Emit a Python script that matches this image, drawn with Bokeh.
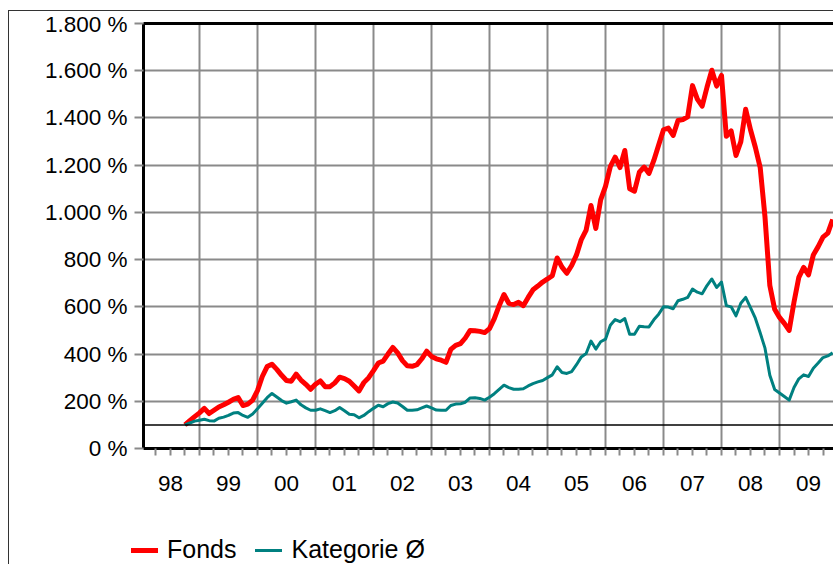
import pandas as pd
from bokeh.plotting import figure
from bokeh.layouts import column
from bokeh.models import (Range1d, LinearAxis, FixedTicker, Span, Legend, LegendItem)
from bokeh.embed import file_html
from bokeh.resources import INLINE

# ---------------- data (monthly, % of start value) ----------------
start_month = "1998-10"

fonds = [
    100, 118, 135, 151, 170, 148, 162, 176, 185, 196,
    208, 216, 182, 188, 205, 245, 305, 347, 357, 335,
    310, 288, 285, 315, 290, 272, 251, 272, 286, 262,
    262, 278, 302, 296, 285, 265, 244, 279, 300, 330,
    362, 370, 400, 428, 405, 372, 350, 348, 355, 380,
    412, 390, 380, 374, 365, 420, 437, 444, 468, 500,
    499, 496, 491, 508, 550, 605, 652, 615, 610, 619,
    605, 640, 672, 688, 705, 718, 732, 807, 768, 742,
    775, 820, 885, 925, 1029, 932, 1053, 1110, 1194, 1234,
    1190, 1262, 1100, 1090, 1170, 1192, 1165, 1220, 1285, 1350,
    1357, 1326, 1389, 1393, 1405, 1537, 1480, 1450, 1530, 1602,
    1535, 1580, 1322, 1345, 1241, 1300, 1437, 1350, 1276, 1191,
    980, 690, 590, 555, 530, 500, 620, 725, 767, 735,
    820, 855, 895, 912, 970,
]

kategorie = [
    100, 108, 116, 120, 124, 118, 116, 128, 133, 140,
    150, 152, 140, 132, 146, 168, 192, 215, 233, 218,
    203, 192, 198, 205, 185, 172, 162, 162, 168, 160,
    152, 160, 174, 160, 145, 143, 130, 140, 156, 170,
    183, 177, 190, 197, 193, 178, 162, 162, 164, 172,
    180, 172, 163, 162, 162, 182, 188, 189, 196, 214,
    215, 212, 205, 217, 232, 250, 268, 258, 251, 251,
    253, 265, 275, 282, 288, 300, 312, 346, 322, 318,
    326, 355, 388, 402, 455, 421, 452, 463, 522, 546,
    537, 550, 484, 484, 518, 516, 515, 545, 569, 600,
    599, 592, 626, 632, 640, 675, 662, 655, 690, 718,
    682, 705, 605, 600, 562, 615, 640, 597, 552, 490,
    425, 310, 250, 235, 220, 205, 258, 295, 312, 305,
    340, 362, 385, 392, 405,
]

years = list(range(1998, 2011))
year_labels = ["98", "99", "00", "01", "02", "03", "04", "05", "06", "07", "08", "09"]
y_ticks = [0, 200, 400, 600, 800, 1000, 1200, 1400, 1600, 1800]
y_tick_labels = ["0 %", "200 %", "400 %", "600 %", "800 %", "1.000 %",
                 "1.200 %", "1.400 %", "1.600 %", "1.800 %"]
series_names = ["Fonds", "Kategorie Ø"]
series_colors = ["#ff0000", "#008080"]
series_widths = [5, 3]
series_values = [fonds, kategorie]

# ---------------- derived x positions (fractional years) ----------------
months = pd.date_range(start_month, periods=len(fonds), freq="MS")
xs = list(months.year + (months.month - 1) / 12.0)

FONT = "Liberation Sans"
GRID = "#8a8a8a"
W = 824

p = figure(width=W, height=519, output_backend="svg", toolbar_location=None,
           x_range=Range1d(1998.035, 2009.931), y_range=Range1d(0, 1800),
           min_border_left=134, min_border_right=0, min_border_top=12,
           min_border_bottom=82)
p.outline_line_color = None
p.background_fill_color = "white"
p.border_fill_color = "white"

# grids
p.xgrid.ticker = FixedTicker(ticks=years)
p.ygrid.ticker = FixedTicker(ticks=y_ticks)
for g in (p.xgrid[0], p.ygrid[0]):
    g.grid_line_color = GRID
    g.grid_line_width = 2

# y axis
ya = p.yaxis[0]
ya.ticker = FixedTicker(ticks=y_ticks)
ya.major_label_overrides = {t: lab for t, lab in zip(y_ticks, y_tick_labels)}
ya.axis_line_width = 3
ya.axis_line_color = "black"
ya.major_tick_out = 9
ya.major_tick_in = 0
ya.major_tick_line_color = GRID
ya.major_tick_line_width = 2
ya.minor_tick_line_color = None
ya.major_label_standoff = 7
ya.major_label_text_font = FONT
ya.major_label_text_font_size = "22.5px"
ya.major_label_text_color = "black"

# bottom axis: quarter ticks, year labels centred in each year
quarters = [y + q / 4 for y in years for q in range(4)]
mid_years = [y + 0.5 for y in years[:len(year_labels)]]
xa = p.xaxis[0]
xa.ticker = FixedTicker(ticks=mid_years, minor_ticks=quarters)
xa.major_label_overrides = {m: lab for m, lab in zip(mid_years, year_labels)}
xa.axis_line_width = 3
xa.axis_line_color = "black"
xa.major_tick_out = 0
xa.major_tick_in = 0
xa.minor_tick_out = 7
xa.minor_tick_in = 0
xa.minor_tick_line_color = GRID
xa.minor_tick_line_width = 2
xa.major_label_standoff = 20
xa.major_label_text_font = FONT
xa.major_label_text_font_size = "22.5px"
xa.major_label_text_color = "black"

# top frame line
top = LinearAxis(ticker=FixedTicker(ticks=[]), axis_line_width=3, axis_line_color="black",
                 major_tick_line_color=None, minor_tick_line_color=None)
p.add_layout(top, "above")

# 100 % reference line
p.add_layout(Span(location=100, dimension="width", line_color="black", line_width=1.5))

for vals, col, lw in zip(series_values, series_colors, series_widths):
    p.line(xs, vals, line_color=col, line_width=lw, line_join="round")

# ---------------- legend strip below the chart ----------------
lg = figure(width=W, height=34, output_backend="svg", toolbar_location=None,
            x_range=Range1d(0, W), y_range=Range1d(0, 34), min_border=0,
            min_border_left=0, min_border_right=0, min_border_top=0, min_border_bottom=0,
            x_axis_type=None, y_axis_type=None)
for fig in (p, lg):
    if "frame_align" in fig.properties():
        fig.frame_align = False
lg.outline_line_color = None
lg.background_fill_color = "white"
lg.border_fill_color = "white"
items = []
for name, vals, col, lw in zip(series_names, series_values, series_colors, series_widths):
    # same series, lying outside this strip's visible range: only the legend swatch shows
    r = lg.line(xs, vals, line_color=col, line_width=lw, line_cap="round")
    items.append(LegendItem(label=name, renderers=[r]))
legend = Legend(items=items, location=(122, 0), orientation="horizontal",
                border_line_color=None, background_fill_alpha=0,
                label_text_font=FONT, label_text_font_size="25px",
                label_text_color="black",
                glyph_width=27, label_standoff=9, spacing=19, padding=0, margin=0)
lg.add_layout(legend)

root = column(p, lg, spacing=0,
              styles={"margin-left": "8px", "margin-top": "10px",
                      "border-left": "1px solid #333333",
                      "border-top": "1px solid #333333"})

open("out.html", "w").write(file_html(root, INLINE))
